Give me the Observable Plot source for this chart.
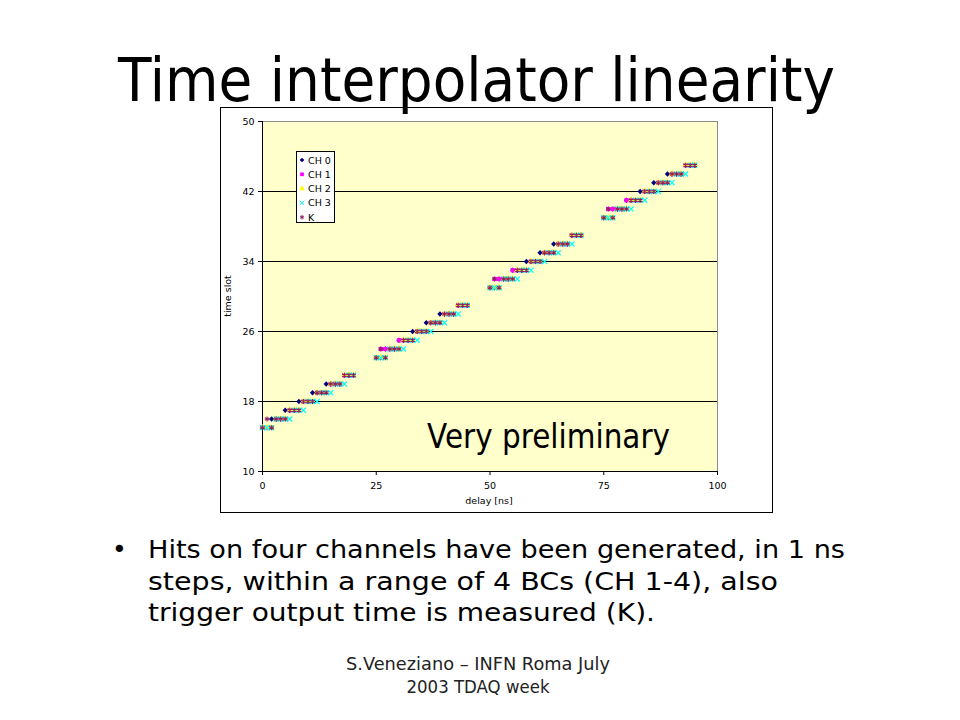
<!DOCTYPE html>
<html>
<head>
<meta charset="utf-8">
<script src="https://cdn.jsdelivr.net/npm/d3@7"></script>
<script src="https://cdn.jsdelivr.net/npm/@observablehq/plot@0.6"></script>
<style>
html, body { margin: 0; padding: 0; background: #fff; }
#page { position: relative; width: 960px; height: 720px; overflow: hidden; background: #fff; }
#chart { position: absolute; left: 220px; top: 107px; width: 553px; height: 406px; }
#overlay { position: absolute; left: 0; top: 0; pointer-events: none; }
</style>
</head>
<body>
<div id="page">
  <div id="chart"></div>
</div>
<script>
// ---- data ----
const seriesNames = ["CH 0", "CH 1", "CH 2", "CH 3", "K"];
const seriesColors = ["#000080", "#ff00ff", "#ffff00", "#00ffff", "#902060"];
const seriesSymbols = ["diamond2", "square", "triangle", "times", "asterisk"];
const xTicks = [0, 25, 50, 75, 100];
const yTicks = [10, 18, 26, 34, 42, 50];
const gridLines = [18, 26, 34, 42];

// each row: [time slot, delays (ns) measured in that slot...]
const ch0Rows = [
  [15,0,1],[16,2,3,4],[17,5,6,7],[18,8,9,10],[19,11,12,13],[20,14,15,16,17],[21,18,19,20],
  [23,25,26],[24,27,28,29],[25,30,31,32],[26,33,34,35],[27,36,37,38],[28,39,40,41,42],[29,43,44,45],
  [31,50,51],[32,52,53,54],[33,55,56,57],[34,58,59,60],[35,61,62,63],[36,64,65,66,67],[37,68,69,70],
  [39,75,76],[40,77,78,79],[41,80,81,82],[42,83,84,85],[43,86,87,88],[44,89,90,91,92],[45,93,94,95]
];
const ch1Rows = [
  [15,0,1,2],[16,3,4,5],[17,6,7,8],[18,9,10,11],[19,12,13,14],[20,15,16,17],[21,18,19,20],
  [23,25],[24,26,27,28,29],[25,30,31,32,33],[26,34,35,36],[27,37,38,39],[28,40,41,42],[29,43,44,45],
  [31,50],[32,51,52,53,54],[33,55,56,57,58],[34,59,60,61],[35,62,63,64],[36,65,66,67],[37,68,69,70],
  [39,75],[40,76,77,78,79],[41,80,81,82,83],[42,84,85,86],[43,87,88,89],[44,90,91,92],[45,93,94,95]
];
const ch2Rows = [
  [15,0,1,2],[16,3,4,5],[17,6,7,8],[18,9,10,11],[19,12,13,14],[20,15,16,17],[21,18,19,20],
  [23,25,26,27],[24,28,29,30],[25,31,32,33],[26,34,35,36],[27,37,38,39],[28,40,41,42],[29,43,44,45],
  [31,50,51,52],[32,53,54,55],[33,56,57,58],[34,59,60,61],[35,62,63,64],[36,65,66,67],[37,68,69,70],
  [39,75,76,77],[40,78,79,80],[41,81,82,83],[42,84,85,86],[43,87,88,89],[44,90,91,92],[45,93,94,95]
];
const ch3Rows = [
  [15,0,1,2],[16,3,4,5,6],[17,7,8,9],[18,10,11,12],[19,13,14,15],[20,16,17,18],[21,19,20],
  [23,25,26,27],[24,28,29,30,31],[25,32,33,34],[26,35,36,37],[27,38,39,40],[28,41,42,43],[29,44,45],
  [31,50,51,52],[32,53,54,55,56],[33,57,58,59],[34,60,61,62],[35,63,64,65],[36,66,67,68],[37,69,70],
  [39,75,76,77],[40,78,79,80,81],[41,82,83,84],[42,85,86,87],[43,88,89,90],[44,91,92,93],[45,94,95]
];
const kRows = [
  [15,0,2],[16,1,3,4,5],[17,6,7,8],[18,9,10,11],[19,12,13,14],[20,15,16,17],[21,18,19,20],
  [23,25,27],[24,26,28,29,30],[25,31,32,33],[26,34,35,36],[27,37,38,39],[28,40,41,42],[29,43,44,45],
  [31,50,52],[32,51,53,54,55],[33,56,57,58],[34,59,60,61],[35,62,63,64],[36,65,66,67],[37,68,69,70],
  [39,75,77],[40,76,78,79,80],[41,81,82,83],[42,84,85,86],[43,87,88,89],[44,90,91,92],[45,93,94,95]
];

const titleText = "Time interpolator linearity";
const stampText = "Very preliminary";
const bulletLines = [
  "Hits on four channels have been generated, in 1 ns",
  "steps, within a range of 4 BCs (CH 1-4), also",
  "trigger output time is measured (K)."
];
const footerLines = ["S.Veneziano \u2013 INFN Roma July", "2003 TDAQ week"];
const xLabel = "delay [ns]";
const yLabel = "time slot";

// ---- build table ----
const rowsBySeries = [ch0Rows, ch1Rows, ch2Rows, ch3Rows, kRows];
const points = rowsBySeries.flatMap((rows, i) =>
  rows.flatMap(([slot, ...delays]) => delays.map(delay => ({series: seriesNames[i], delay, slot})))
);

const filledSymbols = new Set(["diamond2", "square", "triangle"]);
const dotMarks = seriesNames.map((name, i) => {
  const sym = seriesSymbols[i];
  const opts = {x: "delay", y: "slot", symbol: () => sym, r: 2.4};
  if (filledSymbols.has(sym)) { opts.fill = seriesColors[i]; opts.stroke = "none"; }
  else { opts.stroke = seriesColors[i]; opts.strokeWidth = 1.1; opts.fill = "none"; }
  return Plot.dot(points.filter(d => d.series === name), opts);
});

const chart = Plot.plot({
  width: 553, height: 406,
  marginLeft: 42, marginRight: 56, marginTop: 14, marginBottom: 42,
  style: {fontFamily: "'DejaVu Sans', Verdana, sans-serif", fontSize: "9.5px", color: "#000", background: "transparent", overflow: "visible"},
  x: {domain: [0, 100]},
  y: {domain: [10, 50]},
  symbol: {domain: seriesSymbols, range: seriesSymbols},
  marks: [
    Plot.frame({fill: "#ffffcc", stroke: "#8c8c8c"}),
    Plot.ruleY(gridLines, {stroke: "#000", strokeWidth: 1}),
    Plot.ruleY([10], {stroke: "#000"}),
    Plot.ruleX([0], {stroke: "#000"}),
    Plot.axisX({ticks: xTicks, tickSize: 4, tickPadding: 7, label: null, stroke: "#000"}),
    Plot.axisY({ticks: yTicks, tickSize: 4, tickPadding: 4, label: null, stroke: "#000"}),
    ...dotMarks
  ]
});
document.getElementById("chart").appendChild(chart);

// ---- slide overlay: frame, title, legend, texts ----
const svg = d3.select("#page").append("svg")
  .attr("id", "overlay").attr("width", 960).attr("height", 720);

svg.append("rect").attr("x", 220.5).attr("y", 107.5).attr("width", 552).attr("height", 405)
  .attr("fill", "none").attr("stroke", "#000");

const slideFont = "'Comic Sans MS', 'DejaVu Sans', sans-serif";

svg.append("text").attr("x", 118).attr("y", 101)
  .attr("font-family", slideFont).attr("font-size", 61)
  .attr("textLength", 717).attr("lengthAdjust", "spacingAndGlyphs")
  .text(titleText);

// axis titles
svg.append("text").attr("transform", "translate(231,296) rotate(-90)")
  .attr("text-anchor", "middle").attr("font-family", "'DejaVu Sans', sans-serif").attr("font-size", 9.5)
  .text(yLabel);
svg.append("text").attr("x", 489).attr("y", 504)
  .attr("text-anchor", "middle").attr("font-family", "'DejaVu Sans', sans-serif").attr("font-size", 9.5)
  .text(xLabel);

// legend
const lg = svg.append("g");
lg.append("rect").attr("x", 296.5).attr("y", 151.5).attr("width", 38).attr("height", 71)
  .attr("fill", "#fff").attr("stroke", "#000");
const d3Sym = {diamond2: d3.symbolDiamond2, square: d3.symbolSquare, triangle: d3.symbolTriangle, times: d3.symbolTimes, asterisk: d3.symbolAsterisk};
seriesNames.forEach((name, i) => {
  const cy = 160 + i * 14.3;
  const sym = seriesSymbols[i];
  const p = lg.append("path").attr("transform", `translate(302,${cy})`)
    .attr("d", d3.symbol(d3Sym[sym], 14)());
  if (filledSymbols.has(sym)) p.attr("fill", seriesColors[i]);
  else p.attr("fill", "none").attr("stroke", seriesColors[i]).attr("stroke-width", 1);
  lg.append("text").attr("x", 308).attr("y", cy + 3.5)
    .attr("font-family", "'DejaVu Sans', sans-serif").attr("font-size", 9.5).text(name);
});

// stamp
svg.append("text").attr("x", 427).attr("y", 448)
  .attr("font-family", slideFont).attr("font-size", 33)
  .attr("textLength", 243).attr("lengthAdjust", "spacingAndGlyphs")
  .text(stampText);

// bullet
svg.append("text").attr("x", 112).attr("y", 558)
  .attr("font-family", slideFont).attr("font-size", 25).text("\u2022");
const bulletWidths = [697, 630, 507];
bulletLines.forEach((t, i) => {
  svg.append("text").attr("x", 148).attr("y", 558 + i * 31.5)
    .attr("font-family", slideFont).attr("font-size", 25)
    .attr("textLength", bulletWidths[i]).attr("lengthAdjust", "spacingAndGlyphs")
    .text(t);
});

// footer
const footerWidths = [264, 143];
footerLines.forEach((t, i) => {
  svg.append("text").attr("x", 478 - footerWidths[i] / 2).attr("y", 670 + i * 23)
    .attr("font-family", slideFont).attr("font-size", 17).attr("fill", "#222")
    .attr("textLength", footerWidths[i]).attr("lengthAdjust", "spacingAndGlyphs")
    .text(t);
});
</script>
</body>
</html>
